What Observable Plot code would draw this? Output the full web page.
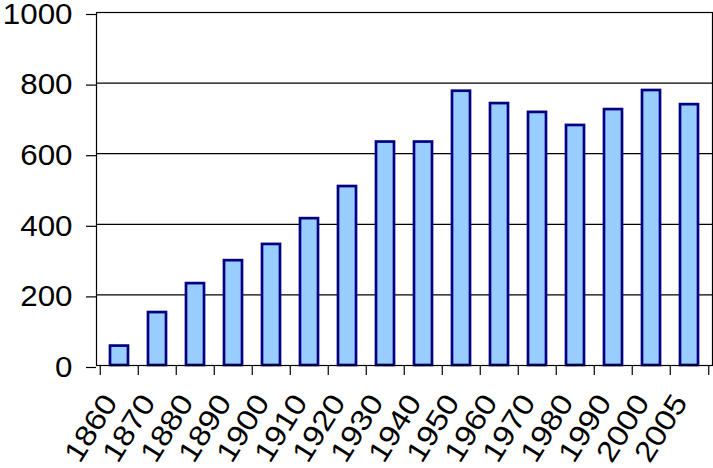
<!DOCTYPE html>
<html>
<head>
<meta charset="utf-8">
<script src="https://cdn.jsdelivr.net/npm/d3@7"></script>
<script src="https://cdn.jsdelivr.net/npm/@observablehq/plot@0.6"></script>
<style>
  html, body { margin: 0; padding: 0; background: #fff; }
  #chart svg { display: block; }
</style>
</head>
<body>
<div id="chart"></div>
<script>
const years = ["1860","1870","1880","1890","1900","1910","1920","1930","1940","1950","1960","1970","1980","1990","2000","2005"];
const values = [55, 150, 232, 297, 343, 416, 507, 633, 633, 777, 742, 717, 680, 725, 779, 739];
const yTicks = [0, 200, 400, 600, 800, 1000];

const data = years.map((y, i) => ({year: y, value: values[i]}));
const band = (713 - 96 - 1) / years.length;

const chart = Plot.plot({
  width: 713,
  height: 468,
  marginLeft: 96,
  marginTop: 12,
  marginRight: 1,
  marginBottom: 103,
  style: {fontFamily: "Liberation Sans, Arial, sans-serif", background: "#fff", overflow: "hidden"},
  x: {domain: years, paddingInner: 0.52, paddingOuter: 0.26, label: null},
  y: {domain: [0, 1000], label: null},
  marks: [
    Plot.gridY(yTicks, {stroke: "#000", strokeOpacity: 1, strokeWidth: 1.2}),
    Plot.barY(data, {x: "year", y: "value", fill: "#99CCFF", stroke: "#000080", strokeWidth: 2.7}),
    Plot.frame({stroke: "#000", strokeWidth: 1.2}),
    Plot.axisY({ticks: yTicks, tickSize: 10, tickPadding: 14, fontSize: 29, dy: 2, tickFormat: d => String(d), label: null, stroke: "#000", strokeWidth: 1.2, fill: "#000"}),
    Plot.axisX({tickSize: 10, text: null, dx: -band / 2, stroke: "#000", strokeWidth: 1.2, label: null}),
    Plot.axisX({ticks: [years[years.length - 1]], tickSize: 10, text: null, dx: band / 2, stroke: "#000", strokeWidth: 1.2, label: null}),
    Plot.axisX({tickSize: 0, tickPadding: 32, tickRotate: -58, fontSize: 29, dx: -9, fill: "#000", label: null})
  ]
});
document.getElementById("chart").appendChild(chart);
// Widen glyphs slightly to match the reference's broad digit rendering
const widen = (sel, k) => chart.querySelectorAll(sel).forEach(t => {
  const len = t.getComputedTextLength();
  t.setAttribute("textLength", (len * k).toFixed(1));
  t.setAttribute("lengthAdjust", "spacingAndGlyphs");
});
widen("g[aria-label='y-axis tick label'] text", 1.08);
widen("g[aria-label='x-axis tick label'] text", 1.13);
</script>
</body>
</html>
